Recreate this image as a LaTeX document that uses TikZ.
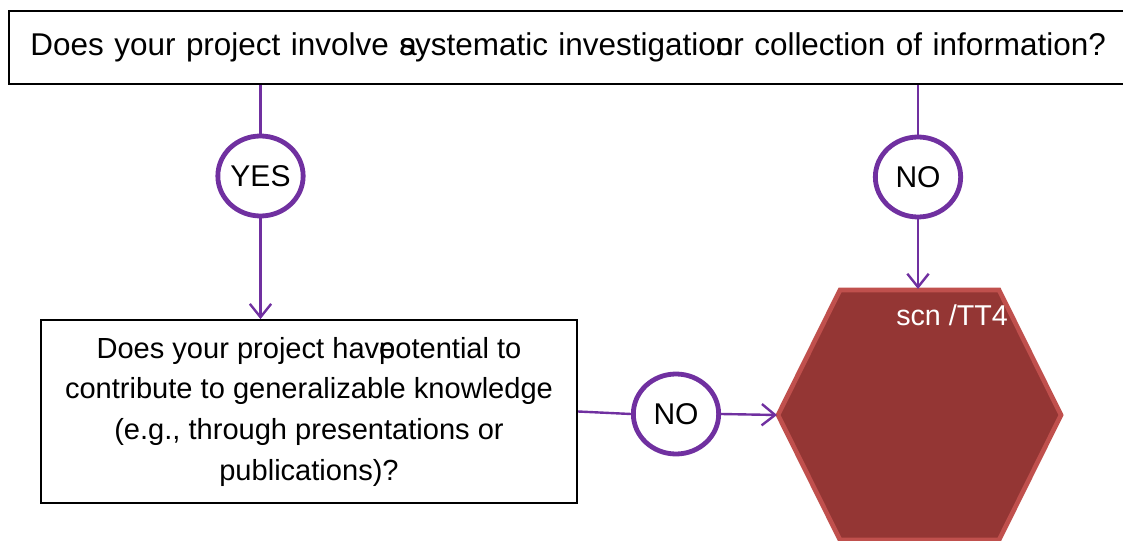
\documentclass[tikz,border=0pt]{standalone}
\usepackage{fontspec}
\setmainfont{Liberation Sans}
\usetikzlibrary{arrows.meta,shapes.geometric}
\definecolor{purp}{HTML}{7030A0}
\definecolor{hexfill}{HTML}{943634}
\definecolor{hexline}{HTML}{C0504D}
\tikzset{
  qbox/.style={draw=black, line width=1.6pt, rectangle, inner sep=0pt},
  decision/.style={draw=purp, line width=3.6pt, ellipse, fill=white, inner sep=0pt,
    minimum width=64pt, minimum height=60pt, font=\fontsize{22.5}{26}\selectfont},
  link/.style={draw=purp, line width=1.8pt},
  arrowlink/.style={link, -{Straight Barb[length=10pt,width=16pt,line width=1.8pt]}},
}
\begin{document}
\begin{tikzpicture}[x=0.75pt,y=-0.75pt]
\useasboundingbox (0,0) rectangle (1123,541);
% hexagon
\draw[fill=hexfill, draw=hexline, line width=3.5pt, line join=miter]
  (778,415) -- (840,290) -- (999,290) -- (1061,415) -- (999,540) -- (840,540) -- cycle;
\coordinate (hexW) at (777,415);
\coordinate (hexN) at (918,289);
\node (hexlabel) [text=white, font=\fontsize{21.5}{24}\selectfont] at (952,315) {scn /TT4};
% top question
\node (q1) [qbox, anchor=north west, minimum width=849pt, minimum height=55pt,
  text width=900pt, inner xsep=16pt, align=left, font=\fontsize{23.6}{28}\selectfont]
  at (8,10) {Does your project involve \rlap{a}systematic investigatio\rlap{n}or collection of information?};
% second question
\node (q2) [qbox, minimum width=402pt, minimum height=137pt, align=center,
  font=\fontsize{21.8}{30.5}\selectfont] at (309,411.5)
  {Does your project hav\rlap{e}potential to\\contribute to generalizable knowledge\\(e.g., through presentations or\\publications)?};
% decisions
\node (yes) [decision] at (260.5,176) {YES};
\node (no1) [decision] at (918,177) {NO};
\node (no2) [decision] at (676,414) {NO};
% connectors
\draw[link] (yes.north |- q1.south) -- (yes.north);
\draw[arrowlink] (yes.south) -- (yes.south |- q2.north);
\draw[link] (no1.north |- q1.south) -- (no1.north);
\draw[arrowlink] (no1.south) -- (hexN);
\draw[link] (q2.east) -- (no2.west);
\draw[arrowlink] (no2.east) -- (hexW);
\end{tikzpicture}
\end{document}
